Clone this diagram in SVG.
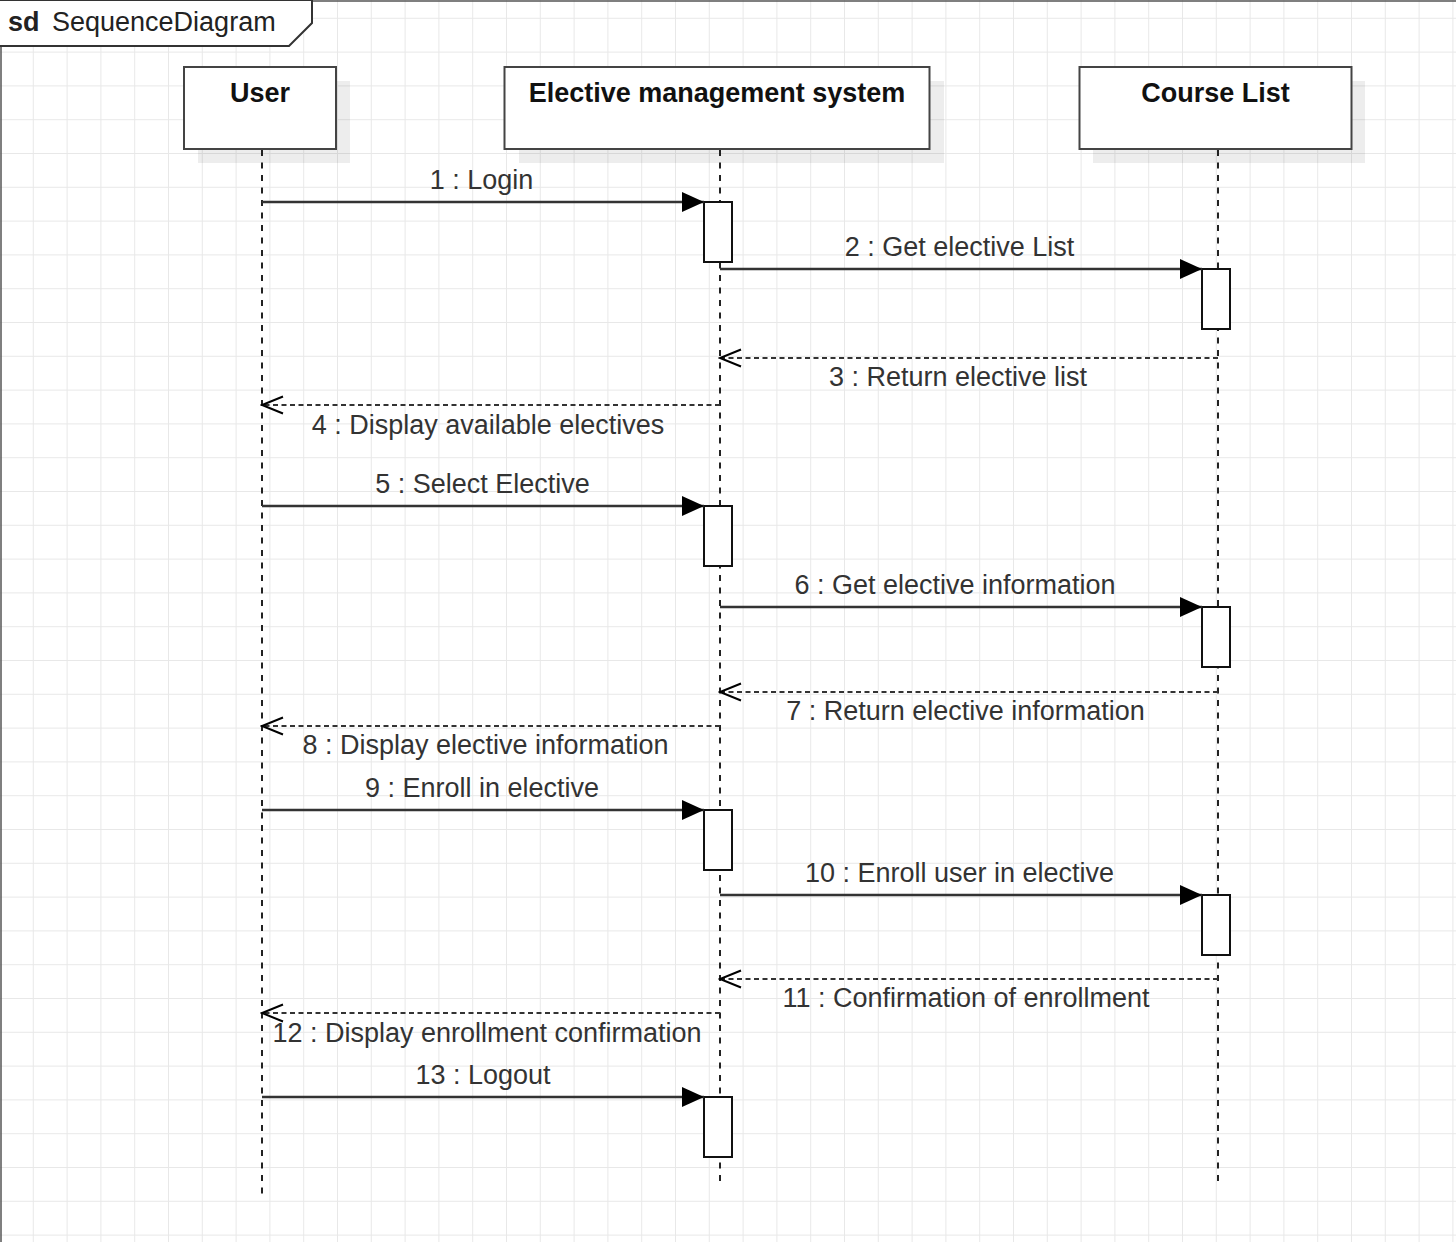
<svg xmlns="http://www.w3.org/2000/svg" width="1456" height="1242" viewBox="0 0 1456 1242">
<style>
  .hdr { font-family: "Liberation Sans", Arial, sans-serif; font-size: 27px; font-weight: bold; fill: #111; text-anchor: middle; }
  .lbl { font-family: "Liberation Sans", Arial, sans-serif; font-size: 27px; fill: #333; text-anchor: middle; }
  .box { fill: #fff; stroke: #444; stroke-width: 2; }
  .shadow { fill: #000; opacity: 0.07; }
  .life { stroke: #222; stroke-width: 2; stroke-dasharray: 6 6.5; fill: none; }
  .act { fill: #fff; stroke: #111; stroke-width: 2; }
  .call { stroke: #333; stroke-width: 2.5; fill: none; marker-end: url(#filled); }
  .ret { stroke: #333; stroke-width: 2; fill: none; stroke-dasharray: 5 3.5; marker-end: url(#open); }
</style>
<defs>
  <pattern id="grid" x="-1" y="17.8" width="33.8" height="33.8" patternUnits="userSpaceOnUse">
    <path d="M0.5 0 V33.8 M0 0.5 H33.8" stroke="#e8e8e8" stroke-width="1" fill="none"/>
  </pattern>
  <marker id="filled" viewBox="0 0 22 20" refX="22" refY="10" markerWidth="22" markerHeight="20" markerUnits="userSpaceOnUse" orient="auto">
    <path d="M0,0 L22,10 L0,20 Z" fill="#000"/>
  </marker>
  <marker id="open" viewBox="0 0 24 20" refX="22" refY="10" markerWidth="24" markerHeight="20" markerUnits="userSpaceOnUse" orient="auto">
    <path d="M1,1.5 L22,10 L1,18.5" fill="none" stroke="#000" stroke-width="2"/>
  </marker>
</defs>

<rect x="0" y="0" width="1456" height="1242" fill="#fff"/>
<rect x="0" y="0" width="1456" height="1242" fill="url(#grid)"/>

<g id="frame">
  <path d="M1 1242 V1 H1456" fill="none" stroke="#555" stroke-width="1.5"/>
  <path d="M0 0 H312 V23 L289 46 H0" fill="#fff" stroke="#333" stroke-width="2"/>
  <text x="8" y="31" font-family="'Liberation Sans', Arial, sans-serif" font-size="27" fill="#222"><tspan font-weight="bold">sd</tspan><tspan x="52">SequenceDiagram</tspan></text>
</g>

<g id="node-user">
  <rect class="shadow" x="198" y="81" width="152" height="82"/>
  <rect class="box" x="184" y="67" width="152" height="82"/>
  <text class="hdr" x="260" y="102">User</text>
  <line class="life" x1="262" y1="150" x2="262" y2="1197"/>
</g>

<g id="node-ems">
  <rect class="shadow" x="519" y="81" width="425" height="82"/>
  <rect class="box" x="504.5" y="67" width="425" height="82"/>
  <text class="hdr" x="717" y="102">Elective management system</text>
  <line class="life" x1="720" y1="150" x2="720" y2="1185"/>
</g>

<g id="node-courselist">
  <rect class="shadow" x="1093" y="81" width="272" height="82"/>
  <rect class="box" x="1079.5" y="67" width="272" height="82"/>
  <text class="hdr" x="1215.5" y="102">Course List</text>
  <line class="life" x1="1218" y1="150" x2="1218" y2="1182"/>
</g>

<g id="activations">
  <rect class="act" x="704" y="202" width="28" height="60"/>
  <rect class="act" x="1202" y="269" width="28" height="60"/>
  <rect class="act" x="704" y="506" width="28" height="60"/>
  <rect class="act" x="1202" y="607" width="28" height="60"/>
  <rect class="act" x="704" y="810" width="28" height="60"/>
  <rect class="act" x="1202" y="895" width="28" height="60"/>
  <rect class="act" x="704" y="1097" width="28" height="60"/>
</g>

<g id="connectors">
  <line class="call" x1="262" y1="202" x2="704" y2="202"/>
  <line class="call" x1="720" y1="269" x2="1202" y2="269"/>
  <line class="ret" x1="1218" y1="358" x2="720" y2="358"/>
  <line class="ret" x1="720" y1="405" x2="262" y2="405"/>
  <line class="call" x1="262" y1="506" x2="704" y2="506"/>
  <line class="call" x1="720" y1="607" x2="1202" y2="607"/>
  <line class="ret" x1="1218" y1="692" x2="720" y2="692"/>
  <line class="ret" x1="720" y1="726" x2="262" y2="726"/>
  <line class="call" x1="262" y1="810" x2="704" y2="810"/>
  <line class="call" x1="720" y1="895" x2="1202" y2="895"/>
  <line class="ret" x1="1218" y1="979" x2="720" y2="979"/>
  <line class="ret" x1="720" y1="1013" x2="262" y2="1013"/>
  <line class="call" x1="262" y1="1097" x2="704" y2="1097"/>

  <text class="lbl" x="481.5" y="189">1 : Login</text>
  <text class="lbl" x="959.5" y="256">2 : Get elective List</text>
  <text class="lbl" x="958" y="386">3 : Return elective list</text>
  <text class="lbl" x="488" y="434">4 : Display available electives</text>
  <text class="lbl" x="482.5" y="493">5 : Select Elective</text>
  <text class="lbl" x="955" y="594">6 : Get elective information</text>
  <text class="lbl" x="965.5" y="720">7 : Return elective information</text>
  <text class="lbl" x="485.5" y="754">8 : Display elective information</text>
  <text class="lbl" x="482" y="797">9 : Enroll in elective</text>
  <text class="lbl" x="959.5" y="882">10 : Enroll user in elective</text>
  <text class="lbl" x="966" y="1007">11 : Confirmation of enrollment</text>
  <text class="lbl" x="487" y="1041.5">12 : Display enrollment confirmation</text>
  <text class="lbl" x="483" y="1083.5">13 : Logout</text>
</g>
</svg>
